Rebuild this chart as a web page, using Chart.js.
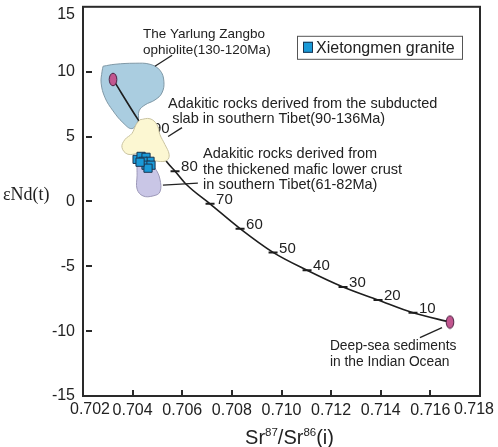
<!DOCTYPE html>
<html>
<head>
<meta charset="utf-8">
<script src="https://cdn.jsdelivr.net/npm/chart.js@4.4.1/dist/chart.umd.min.js"></script>
<style>
  html, body { margin: 0; padding: 0; background: #fff; }
</style>
</head>
<body>
<canvas id="chart" width="498" height="447"></canvas>
<script>
// ── Axis ticks ──
const xTickValues = [0.702, 0.704, 0.706, 0.708, 0.71, 0.712, 0.714, 0.716, 0.718];
const yTickValues = [-15, -10, -5, 0, 5, 10, 15];

// ── Mixing curve ──
const curveX = [0.70321, 0.70422, 0.70458, 0.70539, 0.70571, 0.70619, 0.70712, 0.70833, 0.70966, 0.71103, 0.71248, 0.71389, 0.7153, 0.71679];
const curveY = [9.4, 6.3, 5.31, 3.02, 2.33, 1.26, -0.19, -2.1, -3.93, -5.31, -6.6, -7.6, -8.59, -9.3];

// ── Proportion marks along the curve ──
const markLabels = ["90", "80", "70", "60", "50", "40", "30", "20", "10"];
const markX = [0.70458, 0.70571, 0.70712, 0.70833, 0.70966, 0.71103, 0.71248, 0.71389, 0.7153];
const markY = [5.31, 2.33, -0.19, -2.1, -3.93, -5.31, -6.6, -7.6, -8.59];

// ── End members ──
const endX = [0.70321, 0.71679];
const endY = [9.4, -9.3];

// ── Xietongmen granite ──
const graniteX = [0.70418, 0.70434, 0.70454, 0.7047, 0.70442, 0.70454, 0.70474, 0.70462, 0.7043];
const graniteY = [3.24, 3.47, 3.4, 3.09, 3.09, 2.79, 2.79, 2.56, 3.02];

// ── Field outlines ──
const yarlungX = [0.70281, 0.70329, 0.7041, 0.7047, 0.7051, 0.70526, 0.70518, 0.7049, 0.7045, 0.70426, 0.70422, 0.70397, 0.70361, 0.70321, 0.70289, 0.70273, 0.70277];
const yarlungY = [10.42, 10.57, 10.65, 10.57, 10.11, 9.27, 8.36, 7.82, 7.44, 6.98, 6.22, 5.61, 6.07, 6.98, 7.98, 9.12, 10.04];
const slabX = [0.7043, 0.7047, 0.70498, 0.7051, 0.7053, 0.70547, 0.70539, 0.70502, 0.7047, 0.7043, 0.70381, 0.70357, 0.70369, 0.70397, 0.70414];
const slabY = [6.3, 6.37, 5.92, 5.15, 4.39, 3.63, 3.17, 3.09, 3.32, 3.7, 3.63, 4.16, 4.77, 5.23, 5.92];
const crustX = [0.70422, 0.70458, 0.7049, 0.7051, 0.7051, 0.70482, 0.70442, 0.70418, 0.70418, 0.70418];
const crustY = [3.24, 3.17, 2.56, 1.72, 0.73, 0.42, 0.42, 0.95, 2.02, 2.79];

// ── Text notes (anchor in data units, leader line in data units) ──
const notes = [
  { lines: ["The Yarlung Zangbo", "ophiolite(130-120Ma)"], size: 13.5, at: [0.70442, 12.86], lead: [[0.7049, 10.42], [0.70559, 11.26]] },
  { lines: ["Adakitic rocks derived from the subducted", " slab in southern Tibet(90-136Ma)"], size: 14.5, at: [0.70543, 7.52], lead: [[0.70543, 5.0], [0.70599, 5.69]] },
  { lines: ["Adakitic rocks derived from", "the thickened mafic lower crust", "in southern Tibet(61-82Ma)"], size: 14.5, at: [0.70684, 3.63], lead: [[0.70522, 1.26], [0.70663, 1.41]] },
  { lines: ["Deep-sea sediments", "in the Indian Ocean"], size: 13.8, at: [0.71195, -11.18], lead: [[0.71558, -10.5], [0.71647, -9.73]] },
];

const TEXT = "#222";
const SANS = "'Liberation Sans', Arial, sans-serif";

function pts(xs, ys) {
  return xs.map((x, i) => ({ x: x, y: ys[i] }));
}
function closed(xs, ys) {
  const p = pts(xs, ys);
  p.push(p[0]);
  return p;
}

// pink oval used for the two end members
function ovalStyle() {
  const c = document.createElement("canvas");
  c.width = 10;
  c.height = 15;
  const g = c.getContext("2d");
  g.beginPath();
  g.ellipse(5, 7.5, 3.8, 6.3, 0, 0, Math.PI * 2);
  g.fillStyle = "#c2568f";
  g.fill();
  g.lineWidth = 1;
  g.strokeStyle = "#4a2040";
  g.stroke();
  return c;
}

const fmtX = (v) => Number(v).toFixed(3);

// ── Extra drawing: frame, inward ticks, titles, notes, legend ──
const decor = {
  id: "decor",
  afterDatasetDraw(chart, args) {
    if (args.index !== 2) return;
    const ctx = chart.ctx;
    const meta = chart.getDatasetMeta(2);
    ctx.save();
    ctx.font = "15px " + SANS;
    ctx.fillStyle = TEXT;
    ctx.textAlign = "left";
    ctx.textBaseline = "middle";
    meta.data.forEach((pt, i) => {
      ctx.fillText(markLabels[i], pt.x + 6, pt.y - 4);
    });
    ctx.restore();
  },
  afterDraw(chart) {
    const ctx = chart.ctx;
    const a = chart.chartArea;
    const xs = chart.scales.x;
    const ys = chart.scales.y;
    ctx.save();

    // frame
    ctx.strokeStyle = "#2a2a2a";
    ctx.lineWidth = 2;
    ctx.strokeRect(a.left, a.top, a.right - a.left, a.bottom - a.top);

    // inward ticks
    ctx.lineWidth = 2;
    ctx.beginPath();
    xTickValues.slice(1, -1).forEach((v) => {
      const px = Math.round(xs.getPixelForValue(v));
      ctx.moveTo(px, a.bottom);
      ctx.lineTo(px, a.bottom - 6);
    });
    yTickValues.slice(1, -1).forEach((v) => {
      const py = Math.round(ys.getPixelForValue(v));
      ctx.moveTo(a.left + 3, py);
      ctx.lineTo(a.left + 9, py);
    });
    ctx.stroke();

    // end labels sit a little inside their ticks, as in the original
    ctx.fillStyle = TEXT;
    ctx.font = "16px " + SANS;
    ctx.textAlign = "right";
    ctx.textBaseline = "middle";
    ctx.fillText(String(yTickValues[yTickValues.length - 1]), a.left - 8, a.top + 8);
    ctx.textAlign = "center";
    ctx.textBaseline = "top";
    ctx.fillText(fmtX(xTickValues[0]), a.left + 7, a.bottom + 6);
    ctx.fillText(fmtX(xTickValues[xTickValues.length - 1]), a.right - 6, a.bottom + 6);

    // notes
    ctx.strokeStyle = TEXT;
    ctx.lineWidth = 1.3;
    ctx.textAlign = "left";
    ctx.textBaseline = "middle";
    notes.forEach((n) => {
      ctx.font = n.size + "px " + SANS;
      const tx = xs.getPixelForValue(n.at[0]);
      const ty = ys.getPixelForValue(n.at[1]);
      n.lines.forEach((line, i) => ctx.fillText(line, tx, ty + i * 15.3));
      ctx.beginPath();
      ctx.moveTo(xs.getPixelForValue(n.lead[0][0]), ys.getPixelForValue(n.lead[0][1]));
      ctx.lineTo(xs.getPixelForValue(n.lead[1][0]), ys.getPixelForValue(n.lead[1][1]));
      ctx.stroke();
    });

    // legend box
    const lx = a.right - 183;
    const ly = a.top + 29;
    ctx.lineWidth = 1;
    ctx.strokeStyle = "#555";
    ctx.strokeRect(lx + 0.5, ly + 0.5, 165, 23);
    ctx.fillStyle = "#1a9ad8";
    ctx.fillRect(lx + 6, ly + 6, 10, 11);
    ctx.strokeStyle = "#1b3550";
    ctx.strokeRect(lx + 6.5, ly + 6.5, 9, 10);
    ctx.fillStyle = TEXT;
    ctx.font = "16px " + SANS;
    ctx.fillText("Xietongmen granite", lx + 19, ly + 12.5);

    // y title (horizontal, serif)
    ctx.font = "18px 'Liberation Serif', 'Times New Roman', serif";
    ctx.fillText("\u03b5Nd(t)", 3, ys.getPixelForValue(0) - 6);

    // x title with superscripts
    const big = "20px " + SANS;
    const small = "11.5px " + SANS;
    const parts = [["Sr", big, 0], ["87", small, -8], ["/Sr", big, 0], ["86", small, -8], ["(i)", big, 0]];
    let w = 0;
    parts.forEach((p) => { ctx.font = p[1]; w += ctx.measureText(p[0]).width; });
    let cx = (a.left + a.right) / 2 + 8 - w / 2;
    ctx.textBaseline = "alphabetic";
    parts.forEach((p) => {
      ctx.font = p[1];
      ctx.fillText(p[0], cx, 444 + p[2]);
      cx += ctx.measureText(p[0]).width;
    });

    ctx.restore();
  },
};

Chart.defaults.font.family = SANS;
Chart.defaults.color = TEXT;

new Chart(document.getElementById("chart"), {
  type: "scatter",
  data: {
    datasets: [
      {
        data: closed(yarlungX, yarlungY),
        showLine: true,
        fill: "shape",
        backgroundColor: "#aacde0",
        borderColor: "#7f98a6",
        borderWidth: 1,
        tension: 0.4,
        pointRadius: 0,
        order: 7,
      },
      {
        data: pts(curveX, curveY),
        showLine: true,
        borderColor: "#1e1e1e",
        borderWidth: 1.6,
        cubicInterpolationMode: "monotone",
        pointRadius: 0,
        order: 6,
      },
      {
        data: pts(markX, markY),
        pointStyle: "line",
        pointRadius: 4.5,
        borderColor: "#1e1e1e",
        borderWidth: 2,
        order: 5,
      },
      {
        data: closed(slabX, slabY),
        showLine: true,
        fill: "shape",
        backgroundColor: "#fcf7d2",
        borderColor: "#c9c3a0",
        borderWidth: 1,
        tension: 0.4,
        pointRadius: 0,
        order: 4,
      },
      {
        data: closed(crustX, crustY),
        showLine: true,
        fill: "shape",
        backgroundColor: "#c9c6e6",
        borderColor: "#9c98b8",
        borderWidth: 1,
        tension: 0.4,
        pointRadius: 0,
        order: 3,
      },
      {
        data: pts(graniteX, graniteY),
        pointStyle: "rect",
        pointRadius: 5.8,
        backgroundColor: "#1a9ad8",
        borderColor: "#1b3550",
        borderWidth: 1,
        order: 2,
      },
      {
        data: pts(endX, endY),
        pointStyle: ovalStyle(),
        order: 1,
      },
    ],
  },
  options: {
    responsive: false,
    animation: false,
    layout: { padding: { top: 3, right: 18, left: 0, bottom: 0 } },
    plugins: {
      legend: { display: false },
      tooltip: { enabled: false },
    },
    scales: {
      x: {
        type: "linear",
        min: 0.702,
        max: 0.718,
        afterBuildTicks: (s) => { s.ticks = xTickValues.map((v) => ({ value: v })); },
        afterFit: (s) => {
          s.height = 51;
          s.paddingLeft = 0;
          s.paddingRight = 0;
        },
        grid: { display: false, drawTicks: false },
        border: { display: false },
        ticks: {
          padding: 5,
          color: TEXT,
          font: { size: 16 },
          maxRotation: 0,
          autoSkip: false,
          // the two end labels are drawn by the plugin
          callback: (v) => (v === 0.702 || v === 0.718 ? "" : fmtX(v)),
        },
      },
      y: {
        type: "linear",
        min: -15,
        max: 15,
        afterBuildTicks: (s) => { s.ticks = yTickValues.map((v) => ({ value: v })); },
        afterFit: (s) => {
          s.width = 83;
          s.paddingTop = 0;
          s.paddingBottom = 0;
        },
        grid: { display: false, drawTicks: false },
        border: { display: false },
        ticks: {
          padding: 8,
          color: TEXT,
          font: { size: 16 },
          // the top label is drawn by the plugin, slightly lower
          callback: (v) => (v === 15 ? "" : String(v)),
        },
      },
    },
  },
  plugins: [decor],
});
</script>
</body>
</html>
